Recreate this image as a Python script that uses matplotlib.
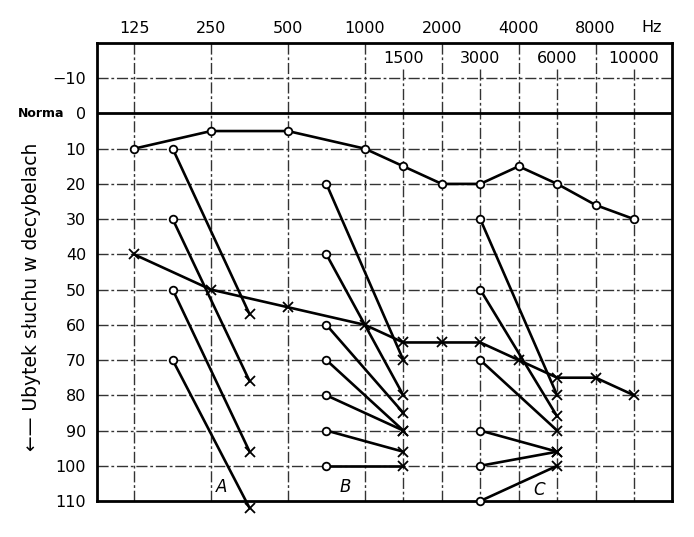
import numpy as np
import matplotlib
matplotlib.use("Agg")
import matplotlib.pyplot as plt

# częstotliwości (Hz) i poziomy (dB)
freq_top = [125, 250, 500, 1000, 2000, 4000, 8000]
freq_mid = [1500, 3000, 6000, 10000]
db_ticks = [-10, 0, 10, 20, 30, 40, 50, 60, 70, 80, 90, 100, 110]

curve_freq = [125, 250, 500, 1000, 1500, 2000, 3000, 4000, 6000, 8000, 10000]
curve_o = [10, 5, 5, 10, 15, 20, 20, 15, 20, 26, 30]
curve_x = [40, 50, 55, 60, 65, 65, 65, 70, 75, 75, 80]

# grupy A, B, C: początek (kółko) -> koniec (krzyżyk)
a_freq = [177, 354]
a_start = [10, 30, 50, 70]
a_end = [57, 76, 96, 112]

b_freq = [707, 1500]
b_start = [20, 40, 60, 70, 80, 90, 100]
b_end = [70, 80, 85, 90, 90, 96, 100]

c_freq = [3000, 6000]
c_start = [30, 50, 70, 90, 100, 110]
c_end = [80, 86, 90, 96, 96, 100]

# skala audiogramu: oktawy co 1, częstotliwości pośrednie w połowie
anchor_f = [1, 62.5, 125, 250, 500, 1000, 1500, 2000, 3000, 4000, 6000, 8000, 10000, 16000, 1e6]
anchor_p = [-6.97, -1, 0, 1, 2, 3, 3.5, 4, 4.5, 5, 5.5, 6, 6.5, 7.5, 13.47]


def fwd(f):
    f = np.clip(np.asarray(f, dtype=float), 1, 1e6)
    return np.interp(np.log2(f), np.log2(anchor_f), anchor_p)


def inv(p):
    p = np.asarray(p, dtype=float)
    return 2 ** np.interp(p, anchor_p, np.log2(anchor_f))


fig = plt.figure(figsize=(6.94, 5.37), dpi=100)
ax = fig.add_axes([0.140, 0.067, 0.828, 0.853])
ax.set_xscale("function", functions=(fwd, inv))
ax.set_xlim(inv(-0.48), inv(6.99))
ax.set_ylim(110, -20)

grid_kw = dict(color="#333333", lw=1.0, linestyle=(0, (8, 2, 2, 2)), zorder=1)
for f in freq_top:
    ax.plot([f, f], [-20, 110], **grid_kw)
for f in freq_mid:
    ax.plot([f, f], [-12.5, 110], **grid_kw)
for d in db_ticks:
    if d == 0:
        ax.axhline(0, color="black", lw=2, zorder=2)
    elif d != 110:
        ax.plot(ax.get_xlim(), [d, d], **grid_kw)

line_kw = dict(color="black", lw=1.9, zorder=3, clip_on=False)
o_kw = dict(marker="o", ms=5.5, mfc="white", mec="black", mew=1.3, ls="none", zorder=4, clip_on=False)
x_kw = dict(marker="x", ms=7, mec="black", mew=1.3, ls="none", zorder=4, clip_on=False)

ax.plot(curve_freq, curve_o, **line_kw)
ax.plot(curve_freq, curve_o, **o_kw)
ax.plot(curve_freq, curve_x, **line_kw)
ax.plot(curve_freq, curve_x, **x_kw)

for freqs, starts, ends in [(a_freq, a_start, a_end), (b_freq, b_start, b_end), (c_freq, c_start, c_end)]:
    for s, e in zip(starts, ends):
        ax.plot(freqs, [s, e], **line_kw)
        ax.plot(freqs[0], s, **o_kw)
        ax.plot(freqs[1], e, **x_kw)

ax.text(275, 106, "A", fontsize=12, style="italic", ha="center", va="center")
ax.text(835, 106, "B", fontsize=12, style="italic", ha="center", va="center")
ax.text(4980, 107, "C", fontsize=12, style="italic", ha="center", va="center")

# osie
ax.xaxis.tick_top()
ax.set_xticks(freq_top)
ax.set_xticklabels([str(f) for f in freq_top], fontsize=11.5)
ax.tick_params(axis="x", length=0, pad=5)
ax.set_yticks(db_ticks)
ax.set_yticklabels([("\u221210" if d < 0 else str(d)) for d in db_ticks], fontsize=11.5)
ax.tick_params(axis="y", length=0, pad=8)
ax.minorticks_off()
for f in freq_mid:
    ax.text(f, -15.5, str(f), fontsize=11.5, ha="center", va="center")
ax.text(11150, -24.3, "Hz", fontsize=11.5, ha="center", va="center", clip_on=False)

ax.text(-0.097, 0, "Norma", transform=ax.get_yaxis_transform(), fontsize=9,
        fontweight="bold", ha="center", va="center")
ax.set_ylabel("\u2190\u2014 Ubytek słuchu w decybelach", fontsize=13.5)
ax.yaxis.set_label_coords(-0.097, 0.445)

for s in ax.spines.values():
    s.set_linewidth(2)

fig.savefig("out.png", dpi=100)
